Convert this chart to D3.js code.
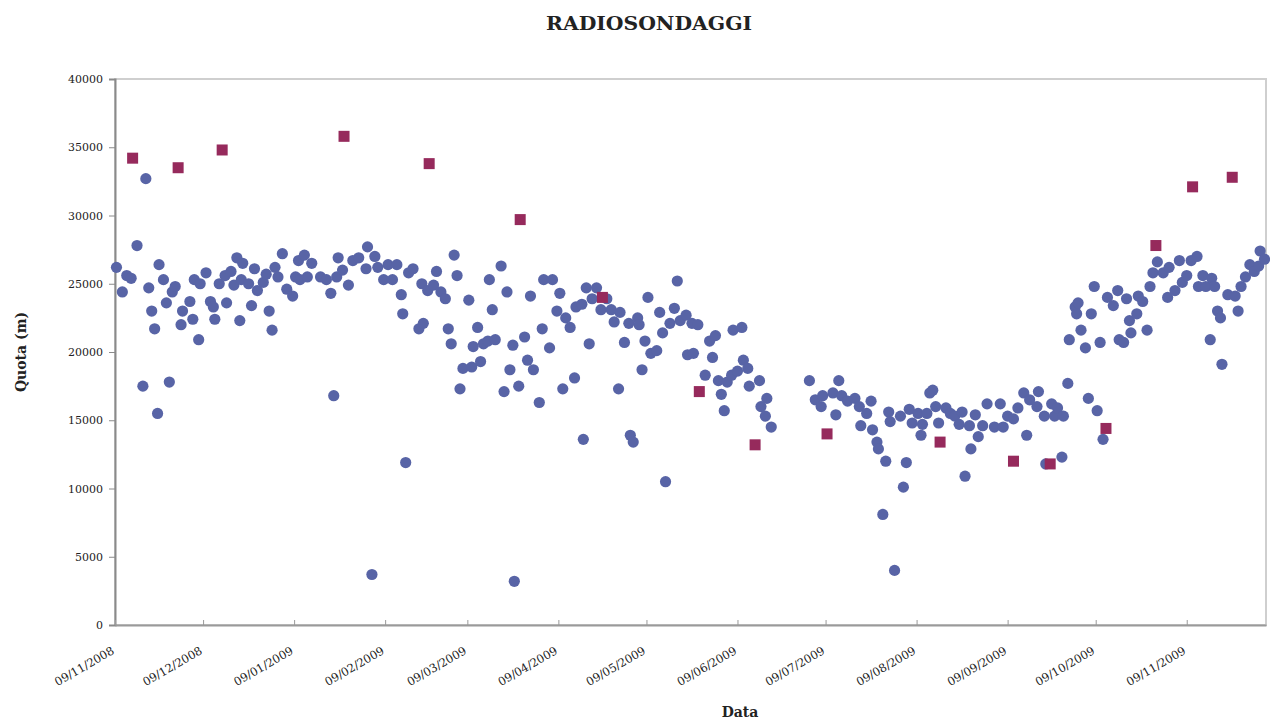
<!DOCTYPE html>
<html>
<head>
<meta charset="utf-8">
<script src="https://cdn.jsdelivr.net/npm/d3@7"></script>
<style>
  html, body { margin: 0; padding: 0; background: #fff; }
  svg { display: block; }
</style>
</head>
<body>
<svg id="chart" width="1270" height="722"></svg>
<script>
// ---------------- DATA ----------------
const chartTitle = "RADIOSONDAGGI";
const xTitle = "Data";
const yTitle = "Quota (m)";
const startDate = "2008-11-09";      // day 0 of the series
const endDay = 392;                  // x-axis end (days after startDate)

// Blue circles: day after startDate, altitude reached (m)
const circleDay = [
  0.5,2.5,4,5.5,7.5,10.5,11.5,12.5,13.5,15,16.5,17.5,19.5,20.5,22.5,23,25.5,26.5,28.5,27,
  29,31,32.5,33.5,34,35.5,37.5,39.5,38,40.5,41.5,42.5,43.5,43,45.5,46.5,47.5,48.5,50.5,51.5,
  52.5,53.5,54.5,55.5,57,58.5,60.5,61.5,62.5,63,64.5,65.5,67,70,72,73.5,75.5,76,77.5,79.5,
  81,83,85.5,86,88.5,89.5,91.5,93,94.5,96,97.5,98,100,9.5,18.5,14.5,74.5,99,87.5,136,
  101.5,103.5,105,104.5,106.5,108.5,109.5,111,112.5,113.5,114.5,115.5,116.5,117.5,118.5,120.5,121.5,122,123.5,124.5,
  125.5,127,127.5,128.5,129.5,131.5,132.5,133.5,134.5,135.5,137.5,139.5,140.5,141.5,142.5,144.5,145.5,146,148,149,
  150.5,151.5,152.5,153.5,155,156.5,157,159,159.5,160.5,161.5,162.5,164,165.5,167.5,169,170,171.5,172,173.5,
  175,175.5,176.5,178,178.5,179.5,180.5,181.5,182.5,184.5,185.5,186.5,187.5,189,190.5,191.5,192.5,194.5,195,196.5,
  197,198.5,
  201,202.5,203.5,204.5,205.5,206.5,207.5,208.5,210,210.5,212,213.5,214,215.5,216,219.5,220,221.5,222,223.5,
  236.5,238.5,240.5,241,244.5,245.5,246.5,247.5,249.5,252,253.5,254,256,257.5,258,259.5,260,261.5,262.5,263.5,
  264,265.5,267.5,268.5,269.5,270.5,271.5,273.5,274.5,275,276.5,277.5,278.5,279.5,280.5,283,284.5,286,287.5,288.5,
  289.5,291,291.5,293,294,295.5,297,
  299.5,301.5,302.5,304,306,307.5,309.5,310.5,311.5,314,314.5,316.5,317,319,320,321,322.5,323,324.5,325,
  327,327.5,328,329,330.5,331.5,332.5,333.5,334.5,335.5,336.5,338,340,341.5,342,343.5,344.5,345.5,346,348,
  348.5,350,351.5,352.5,353.5,355,357,358.5,359,361,362.5,363.5,365,366.5,368.5,369,370.5,371.5,373,373.5,
  374.5,375.5,376.5,377,379,381.5,382.5,383.5,385,386.5,388,389.5,390,391.5
];
const circleQuota = [
  26200,24400,25600,25400,27800,32700,24700,23000,21700,26400,25300,23600,24400,24800,22000,23000,23700,22400,20900,25300,
  25000,25800,23700,23300,22400,25000,25600,25900,23600,24900,26900,22300,26500,25300,25000,23400,26100,24500,25100,25700,
  23000,21600,26200,25500,27200,24600,24100,25500,26700,25300,27100,25500,26500,25500,25300,24300,25500,26900,26000,24900,
  26700,26900,26100,27700,27000,26200,25300,26400,25300,26400,24200,22800,25800,17500,17800,15500,16800,11900,3700,3200,
  26100,21700,22100,25000,24500,24900,25900,24400,23900,21700,20600,27100,25600,17300,18800,23800,18900,20400,21800,19300,
  20600,20800,25300,23100,20900,26300,17100,24400,18700,20500,17500,21100,19400,24100,18700,16300,21700,25300,20300,25300,
  23000,24300,17300,22500,21800,18100,23300,23500,13600,24700,20600,23900,24700,23100,23900,23100,22200,17300,22900,20700,
  22100,13900,13400,22500,22000,18700,20800,24000,19900,20100,22900,21400,10500,22100,23200,25200,22300,22700,19800,22100,
  19900,22000,
  18300,20800,19600,21200,17900,16900,15700,17800,18300,21600,18600,21800,19400,18800,17500,17900,16000,15300,16600,14500,
  17900,16500,16000,16800,17000,15400,17900,16800,16400,16600,16000,14600,15500,16400,14300,13400,12900,8100,12000,15600,
  14900,4000,15300,10100,11900,15800,14800,15500,13900,14700,15500,17000,17200,16000,14800,15900,15500,15300,14700,15600,
  10900,14600,12900,15400,13800,14600,16200,
  14500,16200,14500,15300,15100,15900,17000,13900,16500,16000,17100,15300,11800,16200,15300,15900,12300,15300,17700,20900,
  23300,22800,23600,21600,20300,16600,22800,24800,15700,20700,13600,24000,23400,24500,20900,20700,23900,22300,21400,22800,
  24100,23700,21600,24800,25800,26600,25800,24000,26200,24500,26700,25100,25600,26700,27000,24800,25600,24800,20900,25400,
  24800,23000,22500,19100,24200,24100,23000,24800,25500,26400,25900,26300,27400,26800
];

// Magenta squares: day after startDate, altitude reached (m)
const squareDay = [6,21.5,36.5,78,107,138,166,199,218,242.5,281,306,318.5,337.5,354.5,367,380.5];
const squareQuota = [34200,33500,34800,35800,33800,29700,24000,17100,13200,14000,13400,12000,11800,14400,27800,32100,32800];

const xTickDates = ["2008-11-09","2008-12-09","2009-01-09","2009-02-09","2009-03-09","2009-04-09","2009-05-09",
                    "2009-06-09","2009-07-09","2009-08-09","2009-09-09","2009-10-09","2009-11-09"];
const yTickValues = [0,5000,10000,15000,20000,25000,30000,35000,40000];

// ---------------- CHART ----------------
const svg = d3.select("#chart");
const margin = {left: 115, top: 79, right: 4, bottom: 97};
const W = 1270, H = 722;
const pw = W - margin.left - margin.right;   // plot width
const ph = H - margin.top - margin.bottom;   // plot height

const parse = d3.timeParse("%Y-%m-%d");
const t0 = parse(startDate);
const dayToDate = d => new Date(t0.getTime() + d * 86400000);

const x = d3.scaleTime().domain([t0, dayToDate(endDay)]).range([margin.left, margin.left + pw]);
const y = d3.scaleLinear().domain([0, 40000]).range([margin.top + ph, margin.top]);

const serif = "'DejaVu Serif', 'Liberation Serif', serif";
const fmt = d3.timeFormat("%d/%m/%Y");

// plot frame (top & right light border)
svg.append("rect")
  .attr("x", margin.left).attr("y", margin.top)
  .attr("width", pw).attr("height", ph)
  .attr("fill", "#fff").attr("stroke", "#cfcfcf").attr("stroke-width", 2);

// Y axis
const yAxis = d3.axisLeft(y).tickValues(yTickValues).tickSize(6).tickPadding(6).tickFormat(d3.format("d"));
const gy = svg.append("g").attr("transform", `translate(${margin.left},0)`).call(yAxis);
gy.select(".domain").attr("stroke", "#8a8a8a").attr("stroke-width", 2);
gy.selectAll(".tick line").attr("stroke", "#8a8a8a");
gy.selectAll(".tick text").attr("font-family", serif).attr("font-size", 11).attr("fill", "#222");

// X axis (inside ticks)
const xTicks = xTickDates.map(parse);
const xAxis = d3.axisBottom(x).tickValues(xTicks).tickSizeInner(-5).tickSizeOuter(0).tickFormat("");
const gx = svg.append("g").attr("transform", `translate(0,${margin.top + ph})`).call(xAxis);
gx.select(".domain").attr("stroke", "#9a9a9a").attr("stroke-width", 2);
gx.selectAll(".tick line").attr("stroke", "#9a9a9a");

// rotated x tick labels
svg.append("g").selectAll("text").data(xTicks).join("text")
  .attr("transform", d => `translate(${x(d)},${margin.top + ph + 28}) rotate(-30)`)
  .attr("text-anchor", "end")
  .attr("font-family", serif).attr("font-size", 11.5).attr("fill", "#222")
  .text(d => fmt(d));

// circles
const circles = circleDay.map((d, i) => ({date: dayToDate(d), v: circleQuota[i]}));
svg.append("g").selectAll("circle").data(circles).join("circle")
  .attr("cx", d => x(d.date)).attr("cy", d => y(d.v))
  .attr("r", 5.6)
  .attr("fill", "#5864a6");

// squares
const squares = squareDay.map((d, i) => ({date: dayToDate(d), v: squareQuota[i]}));
const sq = 11;
svg.append("g").selectAll("rect").data(squares).join("rect")
  .attr("x", d => x(d.date) - sq / 2).attr("y", d => y(d.v) - sq / 2)
  .attr("width", sq).attr("height", sq)
  .attr("fill", "#962a5c");

// titles
svg.append("text")
  .attr("x", 649).attr("y", 30)
  .attr("text-anchor", "middle")
  .attr("font-family", serif).attr("font-weight", "bold").attr("font-size", 18)
  .attr("fill", "#222")
  .attr("textLength", 206).attr("lengthAdjust", "spacingAndGlyphs")
  .text(chartTitle);

svg.append("text")
  .attr("x", 740).attr("y", 717)
  .attr("text-anchor", "middle")
  .attr("font-family", serif).attr("font-weight", "bold").attr("font-size", 14)
  .attr("fill", "#222")
  .text(xTitle);

svg.append("text")
  .attr("transform", "translate(26,352) rotate(-90)")
  .attr("text-anchor", "middle")
  .attr("font-family", serif).attr("font-weight", "bold").attr("font-size", 14)
  .attr("fill", "#222")
  .text(yTitle);
</script>
</body>
</html>
